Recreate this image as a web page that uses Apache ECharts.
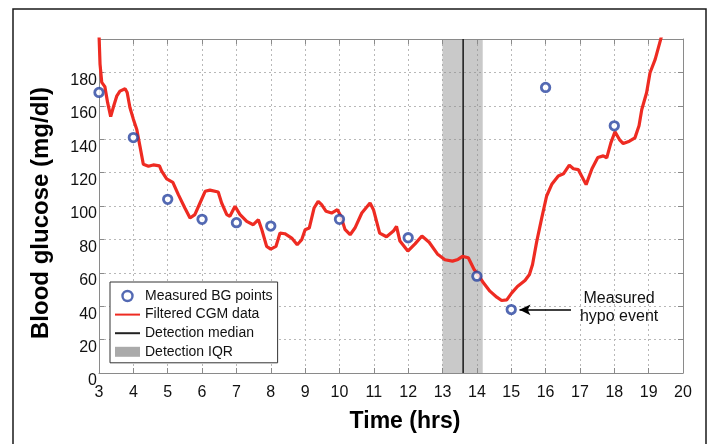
<!DOCTYPE html>
<html><head><meta charset="utf-8">
<script src="https://cdn.jsdelivr.net/npm/echarts@6/dist/echarts.min.js"></script>
<style>html,body{margin:0;padding:0;background:#fff}#c{width:709px;height:444px}</style>
</head><body><div id="c"></div>
<script>
// Filtered CGM trace (time in hrs, glucose in mg/dl)
const cgmTime = [3.00,3.03,3.08,3.17,3.25,3.34,3.43,3.52,3.61,3.76,3.82,3.90,4.00,4.10,4.19,4.29,4.44,4.58,4.76,4.82,4.97,5.15,5.31,5.50,5.65,5.79,5.94,6.09,6.23,6.47,6.57,6.72,6.81,6.96,7.10,7.30,7.49,7.64,7.74,7.88,8.00,8.15,8.27,8.41,8.61,8.77,8.90,9.00,9.12,9.26,9.38,9.48,9.61,9.77,9.94,10.04,10.16,10.31,10.45,10.65,10.89,10.99,11.17,11.37,11.57,11.66,11.76,11.99,12.20,12.40,12.61,12.85,13.07,13.29,13.45,13.58,13.75,13.92,14.05,14.19,14.38,14.58,14.72,14.87,15.01,15.18,15.40,15.53,15.62,15.74,15.89,16.03,16.18,16.37,16.52,16.69,16.81,16.95,17.18,17.35,17.52,17.68,17.78,17.90,18.02,18.15,18.26,18.44,18.60,18.72,18.80,18.94,19.04,19.19,19.35,19.45];
const cgmValue = [203,185,174,171.5,162,153.5,160,166,168.8,170.2,168,159,152,145.8,136,125,123.8,124.6,124,121,116.2,114.2,106.8,98.8,92.8,94.8,101.8,108.8,109.5,108.4,101.8,94.8,93.8,99.8,95,90.8,88.8,91.8,85.8,75.8,74.2,75.8,83.8,83.4,80.8,76.8,79.8,85.8,86.8,98.8,102.8,100.8,96.8,95.8,97.8,94,86,82.8,86.8,95.8,101.8,97.8,83.8,81.6,85,87.8,79,73,77.3,82,78.3,71.3,67.8,67,68,69.8,69,62,58.5,54,49,45.4,43.4,43.8,47.8,51.8,55.4,59,65,78.5,93,106,113,118,119.3,124.5,122.3,121.8,112.8,122.3,129,130,128.8,137.8,144.5,139.8,137.4,138.8,140.8,148,157.8,167.8,179.8,187.8,199.8,208];
// Measured BG points
const bgTime = [3,4,5,6,7,8,10,12,14,15,16,18];
const bgValue = [168,141,104,92,90,88,92,81,58,38,171,148];
// Detection statistics
const detectionMedian = 13.6;
const detectionIQR = [13.0, 14.17];
// Axes
const xMin = 3, xMax = 20, xStep = 1;
const yMin = 0, yMax = 200, yStep = 20;
// Annotation
const hypoLabel = 'Measured\nhypo event';
const hypoLabelAt = [18.14, 39.3];
const hypoArrowFrom = [16.74, 37.8];
const hypoArrowTo = [15.24, 37.8];

const FONT = 'Liberation Sans, Arial, Helvetica, sans-serif';
const axisGray = '#8a8a8a';
const BLUE = '#2844a0', RED = '#ee2b22';
const LINE_ICON = 'path://M0,0 H25 V2 H0 Z';

const chart = echarts.init(document.getElementById('c'), null, {renderer: 'canvas'});

const baseX = {
  type: 'value', min: xMin, max: xMax, interval: xStep,
  axisLine: {show: true, onZero: false, lineStyle: {color: axisGray, width: 1}},
  axisTick: {show: true, inside: true, length: 5, lineStyle: {color: axisGray}},
};
const baseY = {
  type: 'value', min: yMin, max: yMax, interval: yStep,
  axisLine: {show: true, onZero: false, lineStyle: {color: axisGray, width: 1}},
  axisTick: {show: true, inside: true, length: 5, lineStyle: {color: axisGray}},
};

chart.setOption({
  animation: false,
  backgroundColor: '#fff',
  textStyle: {fontFamily: FONT},
  grid: {left: 99, top: 39, right: 26, bottom: 71, containLabel: false},
  graphic: [{
    type: 'rect', silent: true, z: -10,
    shape: {x: 13, y: 9, width: 693, height: 470},
    style: {fill: 'none', stroke: '#1a1a1a', lineWidth: 1.5}
  }],
  xAxis: [
    Object.assign({}, baseX, {
      position: 'bottom', z: 1,
      name: 'Time (hrs)', nameLocation: 'middle', nameGap: 37,
      nameTextStyle: {fontFamily: FONT, fontSize: 23, fontWeight: 'bold', color: '#000', padding: [0, 0, 0, 28]},
      axisLabel: {fontFamily: FONT, fontSize: 16, color: '#111', margin: 12},
      splitLine: {show: true, lineStyle: {color: '#b8b8b8', type: [2, 3], width: 1}}
    }),
    Object.assign({}, baseX, {
      position: 'top', z: 1,
      axisLabel: {show: false}, splitLine: {show: false}
    })
  ],
  yAxis: [
    Object.assign({}, baseY, {
      position: 'left', z: 1,
      name: 'Blood glucose (mg/dl)', nameLocation: 'middle', nameGap: 46, nameRotate: 90,
      nameTextStyle: {fontFamily: FONT, fontSize: 24, fontWeight: 'bold', color: '#000', padding: [0, 14, 0, 0]},
      axisLabel: {fontFamily: FONT, fontSize: 16, color: '#111', margin: 2, verticalAlign: 'top',
        formatter: v => (v === yMax ? '' : String(v))},
      splitLine: {show: true, lineStyle: {color: '#b8b8b8', type: [2, 3], width: 1}}
    }),
    Object.assign({}, baseY, {
      position: 'right', z: 1,
      axisLabel: {show: false}, splitLine: {show: false}
    })
  ],
  legend: {
    orient: 'vertical', left: 110, top: 282,
    padding: [7, 5, 4, 5], itemGap: 4.6, itemWidth: 25, itemHeight: 10,
    backgroundColor: '#fff', borderColor: '#333', borderWidth: 1,
    symbolKeepAspect: true,
    textStyle: {fontFamily: FONT, fontSize: 14, color: '#111'},
    data: [
      {name: 'Measured BG points', icon: 'circle', itemStyle: {color: '#fff', borderColor: BLUE, borderWidth: 2.4}},
      {name: 'Filtered CGM data', icon: LINE_ICON, itemStyle: {color: RED, borderWidth: 0}},
      {name: 'Detection median', icon: LINE_ICON, itemStyle: {color: '#222', borderWidth: 0}},
      {name: 'Detection IQR', icon: 'rect', itemStyle: {color: '#aaaaaa', borderWidth: 0}}
    ]
  },
  series: [
    {
      name: 'Measured BG points', type: 'scatter', z: 5,
      symbol: 'circle', symbolSize: 8.5,
      itemStyle: {color: '#fff', borderColor: BLUE, borderWidth: 2.8},
      data: bgTime.map((t, i) => [t, bgValue[i]]),
      markLine: {
        silent: true, symbol: ['none', 'arrow'], symbolSize: [8, 11],
        lineStyle: {color: '#000', width: 1.6, type: 'solid'},
        label: {show: false},
        data: [[{coord: hypoArrowFrom}, {coord: hypoArrowTo}]]
      },
      markPoint: {
        silent: true, symbol: 'circle', symbolSize: 0,
        itemStyle: {color: 'transparent', borderWidth: 0},
        label: {show: true, position: 'inside', formatter: hypoLabel, fontFamily: FONT, fontSize: 16, lineHeight: 18, color: '#111', align: 'center'},
        data: [{coord: hypoLabelAt, value: 0}]
      }
    },
    {
      name: 'Filtered CGM data', type: 'line', z: 4,
      symbol: 'none', showSymbol: false, smooth: false, clip: true,
      color: RED,
      lineStyle: {color: RED, width: 3.2},
      data: cgmTime.map((t, i) => [t, cgmValue[i]])
    },
    {
      name: 'Detection median', type: 'line', z: 3,
      symbol: 'none', showSymbol: false,
      color: '#222',
      lineStyle: {color: '#222', width: 1.6},
      data: [[detectionMedian, yMin], [detectionMedian, yMax]]
    },
    {
      name: 'Detection IQR', type: 'line', z: 2,
      symbol: 'none', color: '#aaaaaa',
      data: [],
      markArea: {
        silent: true,
        itemStyle: {color: 'rgba(140,140,140,0.47)', borderWidth: 0},
        data: [[{xAxis: detectionIQR[0]}, {xAxis: detectionIQR[1]}]]
      }
    }
  ]
});
</script>
</body></html>
